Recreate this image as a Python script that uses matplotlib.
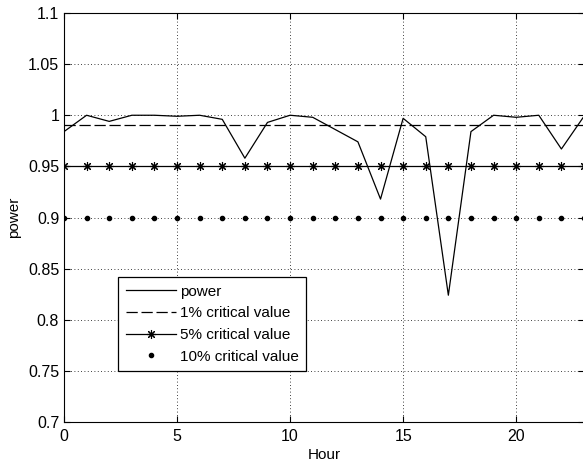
import numpy as np
import matplotlib.pyplot as plt

plt.rcParams['font.family'] = ['Liberation Sans', 'DejaVu Sans']

hours = np.arange(24)
power = [0.984, 1.000, 0.994, 1.000, 1.000, 0.999, 1.000, 0.996, 0.958, 0.993,
         1.000, 0.998, 0.986, 0.974, 0.918, 0.997, 0.979, 0.824, 0.984, 1.000,
         0.998, 1.000, 0.967, 0.999]
crit_1 = 0.99
crit_5 = 0.95
crit_10 = 0.90

xticks = [0, 5, 10, 15, 20]
yticks = [0.7, 0.75, 0.8, 0.85, 0.9, 0.95, 1.0, 1.05, 1.1]
ytick_labels = ['0.7', '0.75', '0.8', '0.85', '0.9', '0.95', '1', '1.05', '1.1']

FS = 11.5
LFS = 11

fig = plt.figure(figsize=(5.83, 4.63), dpi=100)
ax = fig.add_axes([64/583, 1 - 422/463, 520/583, 409/463])

ax.plot(hours, power, '-', color='k', lw=0.9, label='power')
ax.plot(hours, np.full(len(hours), crit_1), color='k', lw=0.9,
        dashes=(9, 3), label='1% critical value')
ax.plot(hours, np.full(len(hours), crit_5), '-', color='k', lw=0.9,
        marker=(8, 2, 0), ms=6.5, mew=0.8, label='5% critical value')
ax.plot(hours, np.full(len(hours), crit_10), linestyle='none', color='k',
        marker='.', ms=6, label='10% critical value')

ax.set_xlim(0, 23)
ax.set_ylim(0.7, 1.1)
ax.set_xticks(xticks)
ax.set_yticks(yticks)
ax.set_yticklabels(ytick_labels)
ax.grid(True, color='k', linestyle=(0, (1, 3)), lw=0.6)
ax.tick_params(direction='in', top=True, right=True, labelsize=FS, length=4, width=0.8)
ax.tick_params(axis='x', pad=5)
for s in ax.spines.values():
    s.set_linewidth(0.8)

ax.set_xlabel('Hour', fontsize=LFS, labelpad=3)
ax.set_ylabel('power', fontsize=LFS, labelpad=5)

leg = ax.legend(loc='upper left', bbox_to_anchor=((118 - 64) / 520, (422 - 277) / 409),
                borderaxespad=0, fontsize=LFS, handlelength=3.3, handletextpad=0.25,
                fancybox=False, framealpha=1, edgecolor='k', labelspacing=0.5,
                borderpad=0.5)
leg.get_frame().set_linewidth(0.9)

plt.savefig('out.png', dpi=100)
